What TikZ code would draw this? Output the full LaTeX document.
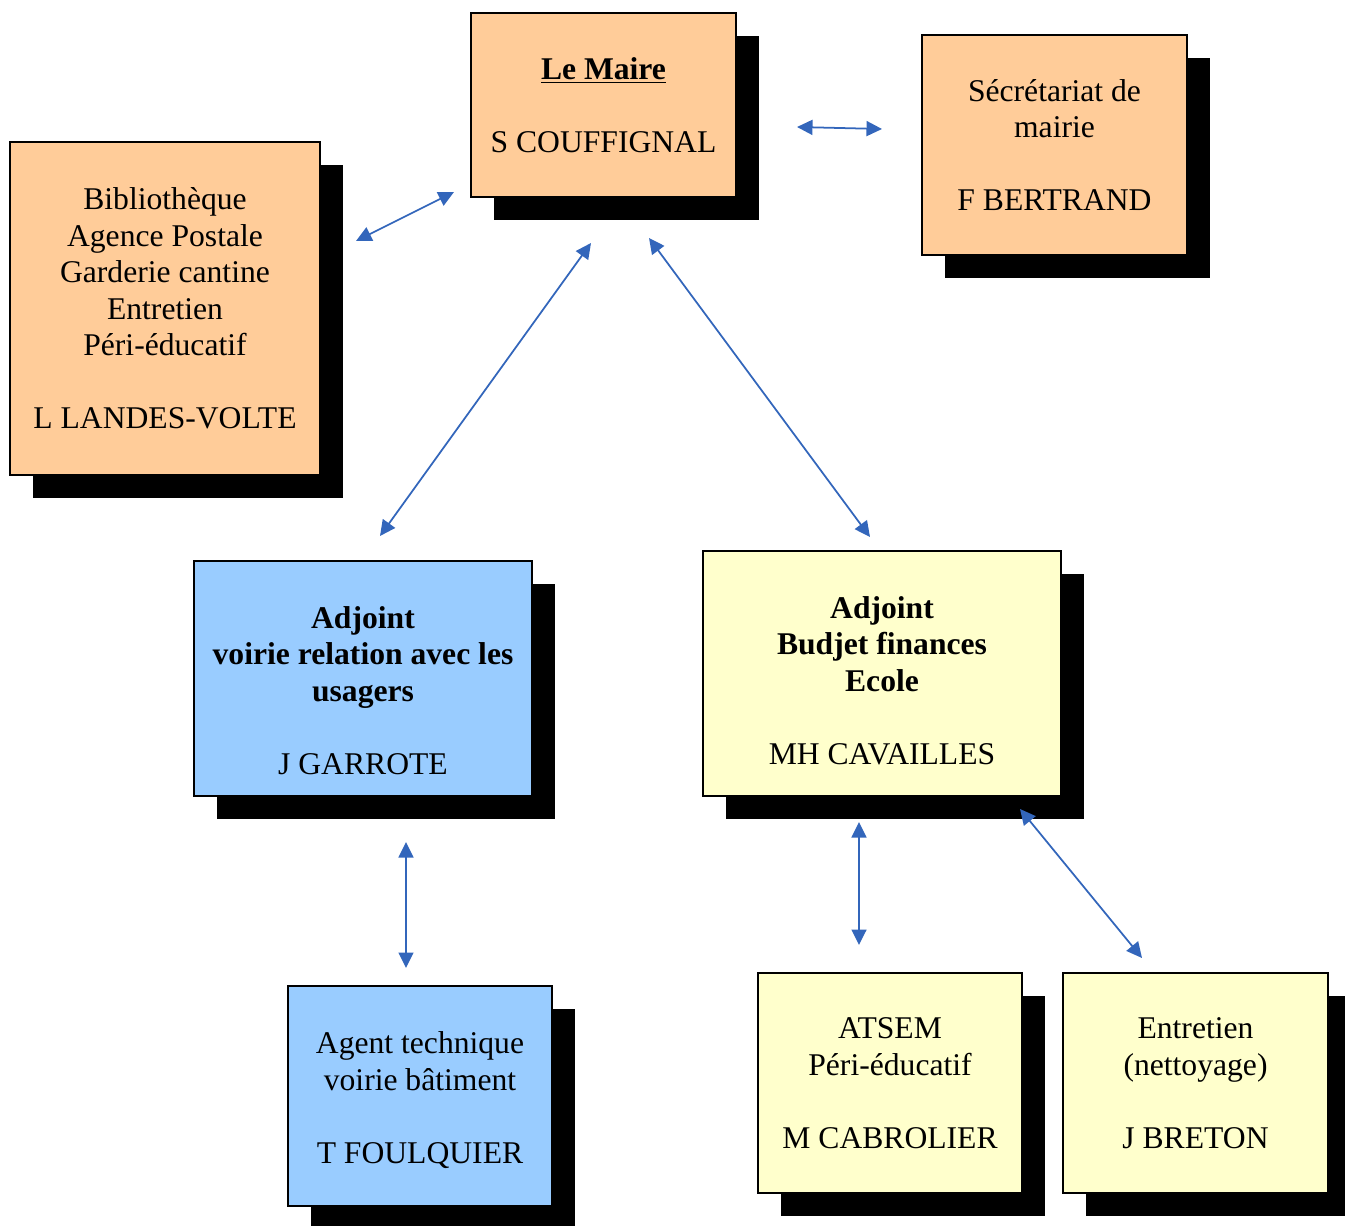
\documentclass[tikz,border=0pt]{standalone}
\usepackage{fontspec}
\setmainfont{Liberation Serif}
\usepackage{xcolor}
\usepackage{tikz}
\usetikzlibrary{positioning,arrows.meta,shadows}

\definecolor{peach}{RGB}{255,204,153}
\definecolor{skyblue}{RGB}{153,204,255}
\definecolor{paleyellow}{RGB}{255,255,204}
\definecolor{linkblue}{RGB}{51,102,187}

\begin{document}
\begin{tikzpicture}[
    x=0.02cm, y=-0.02cm,
    block/.style={rectangle, draw, line width=0.8pt, align=center, inner sep=0pt,
        font=\fontsize{18}{20.8}\selectfont,
        drop shadow={shadow xshift=0.46cm, shadow yshift=-0.46cm, fill=black, opacity=1}},
    arrow/.style={draw=linkblue, line width=1pt,
        {Triangle[length=0.31cm,width=0.3cm]}-{Triangle[length=0.31cm,width=0.3cm]}}
]
    \useasboundingbox (0,0) rectangle (1345,1226);

    % Nodes
    \node[block, fill=peach, minimum width=5.3cm, minimum height=3.68cm] (maire) at (603.5,105)
        {\underline{\textbf{Le Maire}}\\[\baselineskip]S COUFFIGNAL};
    \node[block, fill=peach, minimum width=5.3cm, minimum height=4.4cm] (secretariat) at (1054.5,145)
        {Sécrétariat de\\mairie\\[\baselineskip]F BERTRAND};
    \node[block, fill=peach, minimum width=6.2cm, minimum height=6.66cm] (biblio) at (165,308.5)
        {Bibliothèque\\Agence Postale\\Garderie cantine\\Entretien\\Péri-éducatif\\[\baselineskip]L LANDES-VOLTE};
    \node[block, fill=skyblue, minimum width=6.76cm, minimum height=4.7cm] (voirie) at (363,678.5)
        {\mbox{}\\[5.3pt]\textbf{Adjoint}\\\textbf{voirie relation avec les}\\\textbf{usagers}\\[\baselineskip]J GARROTE};
    \node[block, fill=paleyellow, minimum width=7.16cm, minimum height=4.9cm] (budget) at (882,673.5)
        {\mbox{}\\[-0.3pt]\textbf{Adjoint}\\\textbf{Budjet finances}\\\textbf{Ecole}\\[\baselineskip]MH CAVAILLES};
    \node[block, fill=skyblue, minimum width=5.28cm, minimum height=4.4cm] (agent) at (420,1096)
        {\mbox{}\\[-3.5pt]Agent technique\\voirie bâtiment\\[\baselineskip]T FOULQUIER};
    \node[block, fill=paleyellow, minimum width=5.28cm, minimum height=4.4cm] (atsem) at (890,1083)
        {ATSEM\\Péri-éducatif\\[\baselineskip]M CABROLIER};
    \node[block, fill=paleyellow, minimum width=5.3cm, minimum height=4.4cm] (entretien) at (1195.5,1083)
        {Entretien\\(nettoyage)\\[\baselineskip]J BRETON};

    % Arrow ends
    \coordinate (maire-e) at (797,127);
    \coordinate (secretariat-w) at (882,129);
    \coordinate (maire-w) at (454,192);
    \coordinate (biblio-e) at (356,241);
    \coordinate (maire-sw) at (591,243);
    \coordinate (voirie-n) at (380,536);
    \coordinate (maire-se) at (649,238);
    \coordinate (budget-n) at (870,537);
    \coordinate (voirie-s) at (406,842);
    \coordinate (agent-n) at (406,968);
    \coordinate (budget-s) at (859,822);
    \coordinate (atsem-n) at (859,945);
    \coordinate (budget-se) at (1020,809);
    \coordinate (entretien-n) at (1142,958);

    % Arrows
    \draw[arrow] (maire-e) -- (secretariat-w);
    \draw[arrow] (maire-w) -- (biblio-e);
    \draw[arrow] (maire-sw) -- (voirie-n);
    \draw[arrow] (maire-se) -- (budget-n);
    \draw[arrow] (voirie-s) -- (agent-n);
    \draw[arrow] (budget-s) -- (atsem-n);
    \draw[arrow] (budget-se) -- (entretien-n);
\end{tikzpicture}
\end{document}
